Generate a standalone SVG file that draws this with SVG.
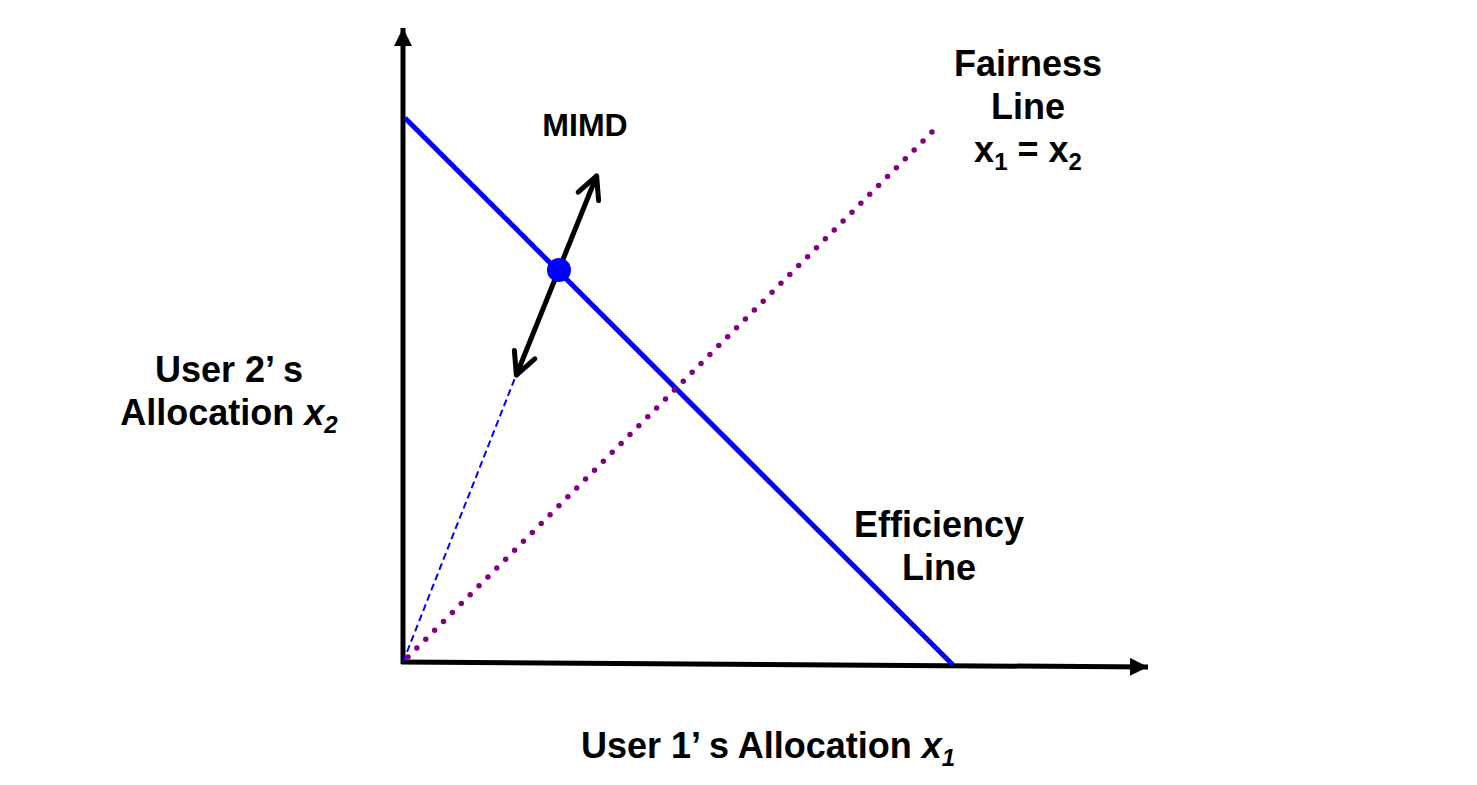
<svg xmlns="http://www.w3.org/2000/svg" width="1477" height="785" viewBox="0 0 1477 785">
<style>
.lbl{font-family:"Liberation Sans",Arial,sans-serif;font-weight:bold;fill:#000;text-anchor:middle}
.big{font-size:36px}
.mid{font-size:32px}
</style>
<defs>
<marker id="tri" markerUnits="userSpaceOnUse" markerWidth="24" markerHeight="24" refX="18" refY="9" orient="auto">
<path d="M0,0 L18,9 L0,18 Z" fill="#000"/>
</marker>
<marker id="chev" markerUnits="userSpaceOnUse" markerWidth="34" markerHeight="34" refX="26" refY="14" orient="auto-start-reverse" overflow="visible">
<path d="M3,3 L25,14 L3,25" fill="none" stroke="#000" stroke-width="5" stroke-linecap="round" stroke-linejoin="round"/>
</marker>
</defs>
<rect width="1477" height="785" fill="#fff"/>
<g id="connectors">
<line id="y-axis" x1="403" y1="664" x2="403" y2="28" stroke="#000" stroke-width="5" marker-end="url(#tri)"/>
<line id="x-axis" x1="401" y1="662" x2="1148" y2="667" stroke="#000" stroke-width="5" marker-end="url(#tri)"/>
<line id="efficiency" x1="405" y1="118" x2="953" y2="665" stroke="#0000ff" stroke-width="5"/>
<line id="fairness" x1="408" y1="657" x2="932" y2="132" stroke="#800080" stroke-width="5.5" stroke-dasharray="0 12.57" stroke-linecap="round"/>
<line id="dashed" x1="403" y1="662" x2="515" y2="378" stroke="#0000ff" stroke-width="2" stroke-dasharray="7 4"/>
<line id="mimd-arrow" x1="516" y1="376" x2="597" y2="175" stroke="#000" stroke-width="5" marker-start="url(#chev)" marker-end="url(#chev)"/>
</g>
<g id="point"><circle cx="559" cy="270" r="12" fill="#0000ff"/></g>
<g id="mimd-label"><text class="lbl mid" x="585" y="136">MIMD</text></g>
<g id="fairness-label">
<text class="lbl big" x="1028" y="76">Fairness</text>
<text class="lbl big" x="1028" y="119">Line</text>
<text class="lbl big" x="1028" y="162">x<tspan font-size="24" dy="8">1</tspan><tspan dy="-8"> = x</tspan><tspan font-size="24" dy="8">2</tspan></text>
</g>
<g id="efficiency-label">
<text class="lbl big" x="939" y="537">Efficiency</text>
<text class="lbl big" x="939" y="580">Line</text>
</g>
<g id="y-label">
<text class="lbl big" x="229" y="382">User 2’ s</text>
<text class="lbl big" x="229" y="425">Allocation <tspan font-style="italic">x</tspan><tspan font-style="italic" font-size="24" dy="8">2</tspan></text>
</g>
<g id="x-label">
<text class="lbl big" x="768" y="758">User 1’ s Allocation <tspan font-style="italic">x</tspan><tspan font-style="italic" font-size="24" dy="8">1</tspan></text>
</g>
</svg>
